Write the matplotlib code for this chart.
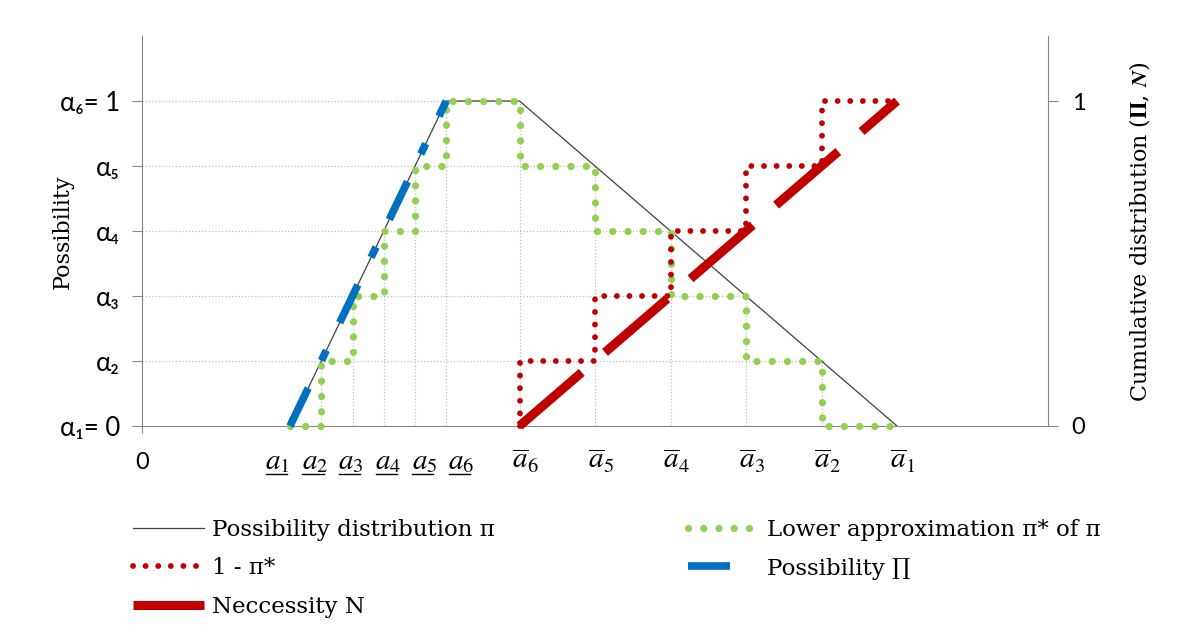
import matplotlib.pyplot as plt
import matplotlib.transforms as mtransforms

plt.rcParams['mathtext.fontset'] = 'stix'

######################################################################
# Alpha levels and the bounds of every alpha-cut of the fuzzy number
alpha = [0.0, 0.2, 0.4, 0.6, 0.8, 1.0]
alpha_labels = ['α₁= 0', 'α₂', 'α₃', 'α₄', 'α₅', 'α₆= 1']

# lower bounds a_1 ... a_6 and upper bounds abar_1 ... abar_6
a_lower = [1.96, 2.37, 2.79, 3.20, 3.62, 4.03]
a_upper = [10.0, 9.0, 8.0, 7.0, 6.0, 5.0]

lower_labels = [r'$a_1$', r'$a_2$', r'$a_3$', r'$a_4$', r'$a_5$', r'$a_6$']
upper_labels = [r'$\overline{a}_1$', r'$\overline{a}_2$', r'$\overline{a}_3$',
                r'$\overline{a}_4$', r'$\overline{a}_5$', r'$\overline{a}_6$']

GRID = '#BFBFBF'
AXIS = '#868686'
GREEN = '#92D050'
RED = '#C00000'
BLUE = '#0070C0'
SANS = ['Lato', 'Noto Sans', 'DejaVu Sans']
SERIF = ['DejaVu Serif', 'DejaVu Sans']


def lower_staircase(lo, up, lev):
    # pi*: climbs on the lower bounds, descends on the upper bounds
    xs, ys = [lo[0]], [lev[0]]
    for k in range(1, len(lev)):
        xs += [lo[k], lo[k]]
        ys += [lev[k - 1], lev[k]]
    for k in range(len(lev) - 1, 0, -1):
        xs += [up[k], up[k]]
        ys += [lev[k], lev[k - 1]]
    xs.append(up[0])
    ys.append(lev[0])
    return xs, ys


def complement_staircase(up, lev):
    # 1 - pi* on the right side of the core
    n = len(lev)
    xs, ys = [up[n - 1]], [lev[0]]
    for j in range(1, n):
        xs += [up[n - j], up[n - 1 - j]]
        ys += [lev[j], lev[j]]
    return xs, ys


######################################################################
# Figure and axes
fig = plt.figure(figsize=(11.77, 6.43), dpi=100)
ax = fig.add_axes([142 / 1177, 1 - 426 / 643, 906 / 1177, 390 / 643])
ax.set_xlim(0, 12)
ax.set_ylim(0, 1.2)

# dotted guide lines of the alpha-cuts
for k in range(1, len(alpha)):
    ax.plot([0, a_upper[k]], [alpha[k], alpha[k]], ls=':', color=GRID, lw=0.9, zorder=1)
    ax.plot([a_lower[k], a_lower[k]], [0, alpha[k]], ls=':', color=GRID, lw=0.9, zorder=1)
    ax.plot([a_upper[k], a_upper[k]], [0, alpha[k]], ls=':', color=GRID, lw=0.9, zorder=1)

# possibility distribution pi (trapezoid)
line_pi, = ax.plot([a_lower[0], a_lower[-1], a_upper[-1], a_upper[0]],
                   [alpha[0], alpha[-1], alpha[-1], alpha[0]],
                   color='#404040', lw=0.9, zorder=2, clip_on=False,
                   label='Possibility distribution π')

# lower approximation pi*
gx, gy = lower_staircase(a_lower, a_upper, alpha)
line_low, = ax.plot(gx, gy, color=GREEN, lw=5.2, ls=(0, (0.01, 2.1)),
                    dash_capstyle='round', zorder=3, clip_on=False,
                    label='Lower approximation π* of π')

# 1 - pi*
rx, ry = complement_staircase(a_upper, alpha)
line_comp, = ax.plot(rx, ry, color=RED, lw=4.2, ls=(0, (0.01, 2.15)),
                     dash_capstyle='round', zorder=4, clip_on=False,
                     label='1 - π*')

# possibility measure on the rising side
line_pos, = ax.plot([a_lower[0], a_lower[-1]], [alpha[0], alpha[-1]],
                    color=BLUE, lw=5.5, ls=(0, (5.5, 4.0, 1.5, 4.0)),
                    dash_capstyle='butt', zorder=5, clip_on=False,
                    label='Possibility ∏')

# necessity measure on the falling side
line_nec, = ax.plot([a_upper[-1], a_upper[0]], [alpha[0], alpha[-1]],
                    color=RED, lw=6.5, ls=(0, (9.1, 3.4)),
                    dash_capstyle='butt', zorder=5, clip_on=False,
                    label='Neccessity N')

######################################################################
# Axes decoration
for side in ['top', 'right']:
    ax.spines[side].set_visible(False)
for side in ['left', 'bottom']:
    ax.spines[side].set_color(AXIS)

ax.set_yticks(alpha, alpha_labels)
ax.tick_params(axis='y', length=7, color=AXIS, pad=9, labelsize=18.5)
for t in ax.yaxis.get_major_ticks()[1:-1]:
    t.tick1line.set_visible(False)
for lab in ax.get_yticklabels():
    lab.set_family(SANS)

ax.set_xticks([0], ['0'])
ax.tick_params(axis='x', length=5, color=AXIS, pad=14, labelsize=17)
for lab in ax.get_xticklabels():
    lab.set_family(SANS)

ax2 = ax.twinx()
ax2.set_ylim(0, 1.2)
for side in ['top', 'left', 'bottom']:
    ax2.spines[side].set_visible(False)
ax2.spines['right'].set_color(AXIS)
ax2.set_yticks([0, 1], ['0', '1'])
ax2.tick_params(axis='y', length=7, color=AXIS, pad=10, labelsize=17)
for lab in ax2.get_yticklabels():
    lab.set_family(SANS)

# alpha-cut bound labels below the axis
lab_tr = mtransforms.offset_copy(ax.transData, fig=fig, x=0, y=-43, units='dots')
bar_tr = mtransforms.offset_copy(ax.transData, fig=fig, x=0, y=-48, units='dots')
for k, lab in enumerate(lower_labels):
    left = a_lower[0] - 0.33 + 0.485 * k
    ax.text(left, 0, lab, transform=lab_tr, ha='left', va='baseline', size=21)
    ax.plot([left + 0.01, left + 0.29], [0, 0], transform=bar_tr, color='black',
            lw=1.0, clip_on=False)
for k, lab in enumerate(upper_labels):
    ax.text(a_upper[k] + 0.08, 0, lab, transform=lab_tr, ha='center',
            va='baseline', size=21)

fig.text(63 / 1177, 1 - 232 / 643, 'Possibility', rotation=90, ha='center',
         va='center', family=SERIF, size=16)
fig.text(1140 / 1177, 1 - 232 / 643,
         r'Cumulative distribution ($\mathbf{\Pi}$, $\mathbfit{N}$)',
         rotation=90, ha='center', va='center', family=SERIF, size=16)

######################################################################
# Legends below the chart
leg_kw = dict(loc='upper left', frameon=False, borderpad=0, borderaxespad=0,
              handlelength=3.1, handletextpad=0.35, labelspacing=0.72,
              prop={'family': SERIF, 'size': 16.5})
fig.legend(handles=[line_pi, line_comp, line_nec],
           bbox_to_anchor=(133 / 1177, 1 - 519 / 643), **leg_kw)
fig.legend(handles=[line_low, line_pos],
           bbox_to_anchor=(688 / 1177, 1 - 519 / 643), **leg_kw)

fig.savefig('out.png', dpi=100)
